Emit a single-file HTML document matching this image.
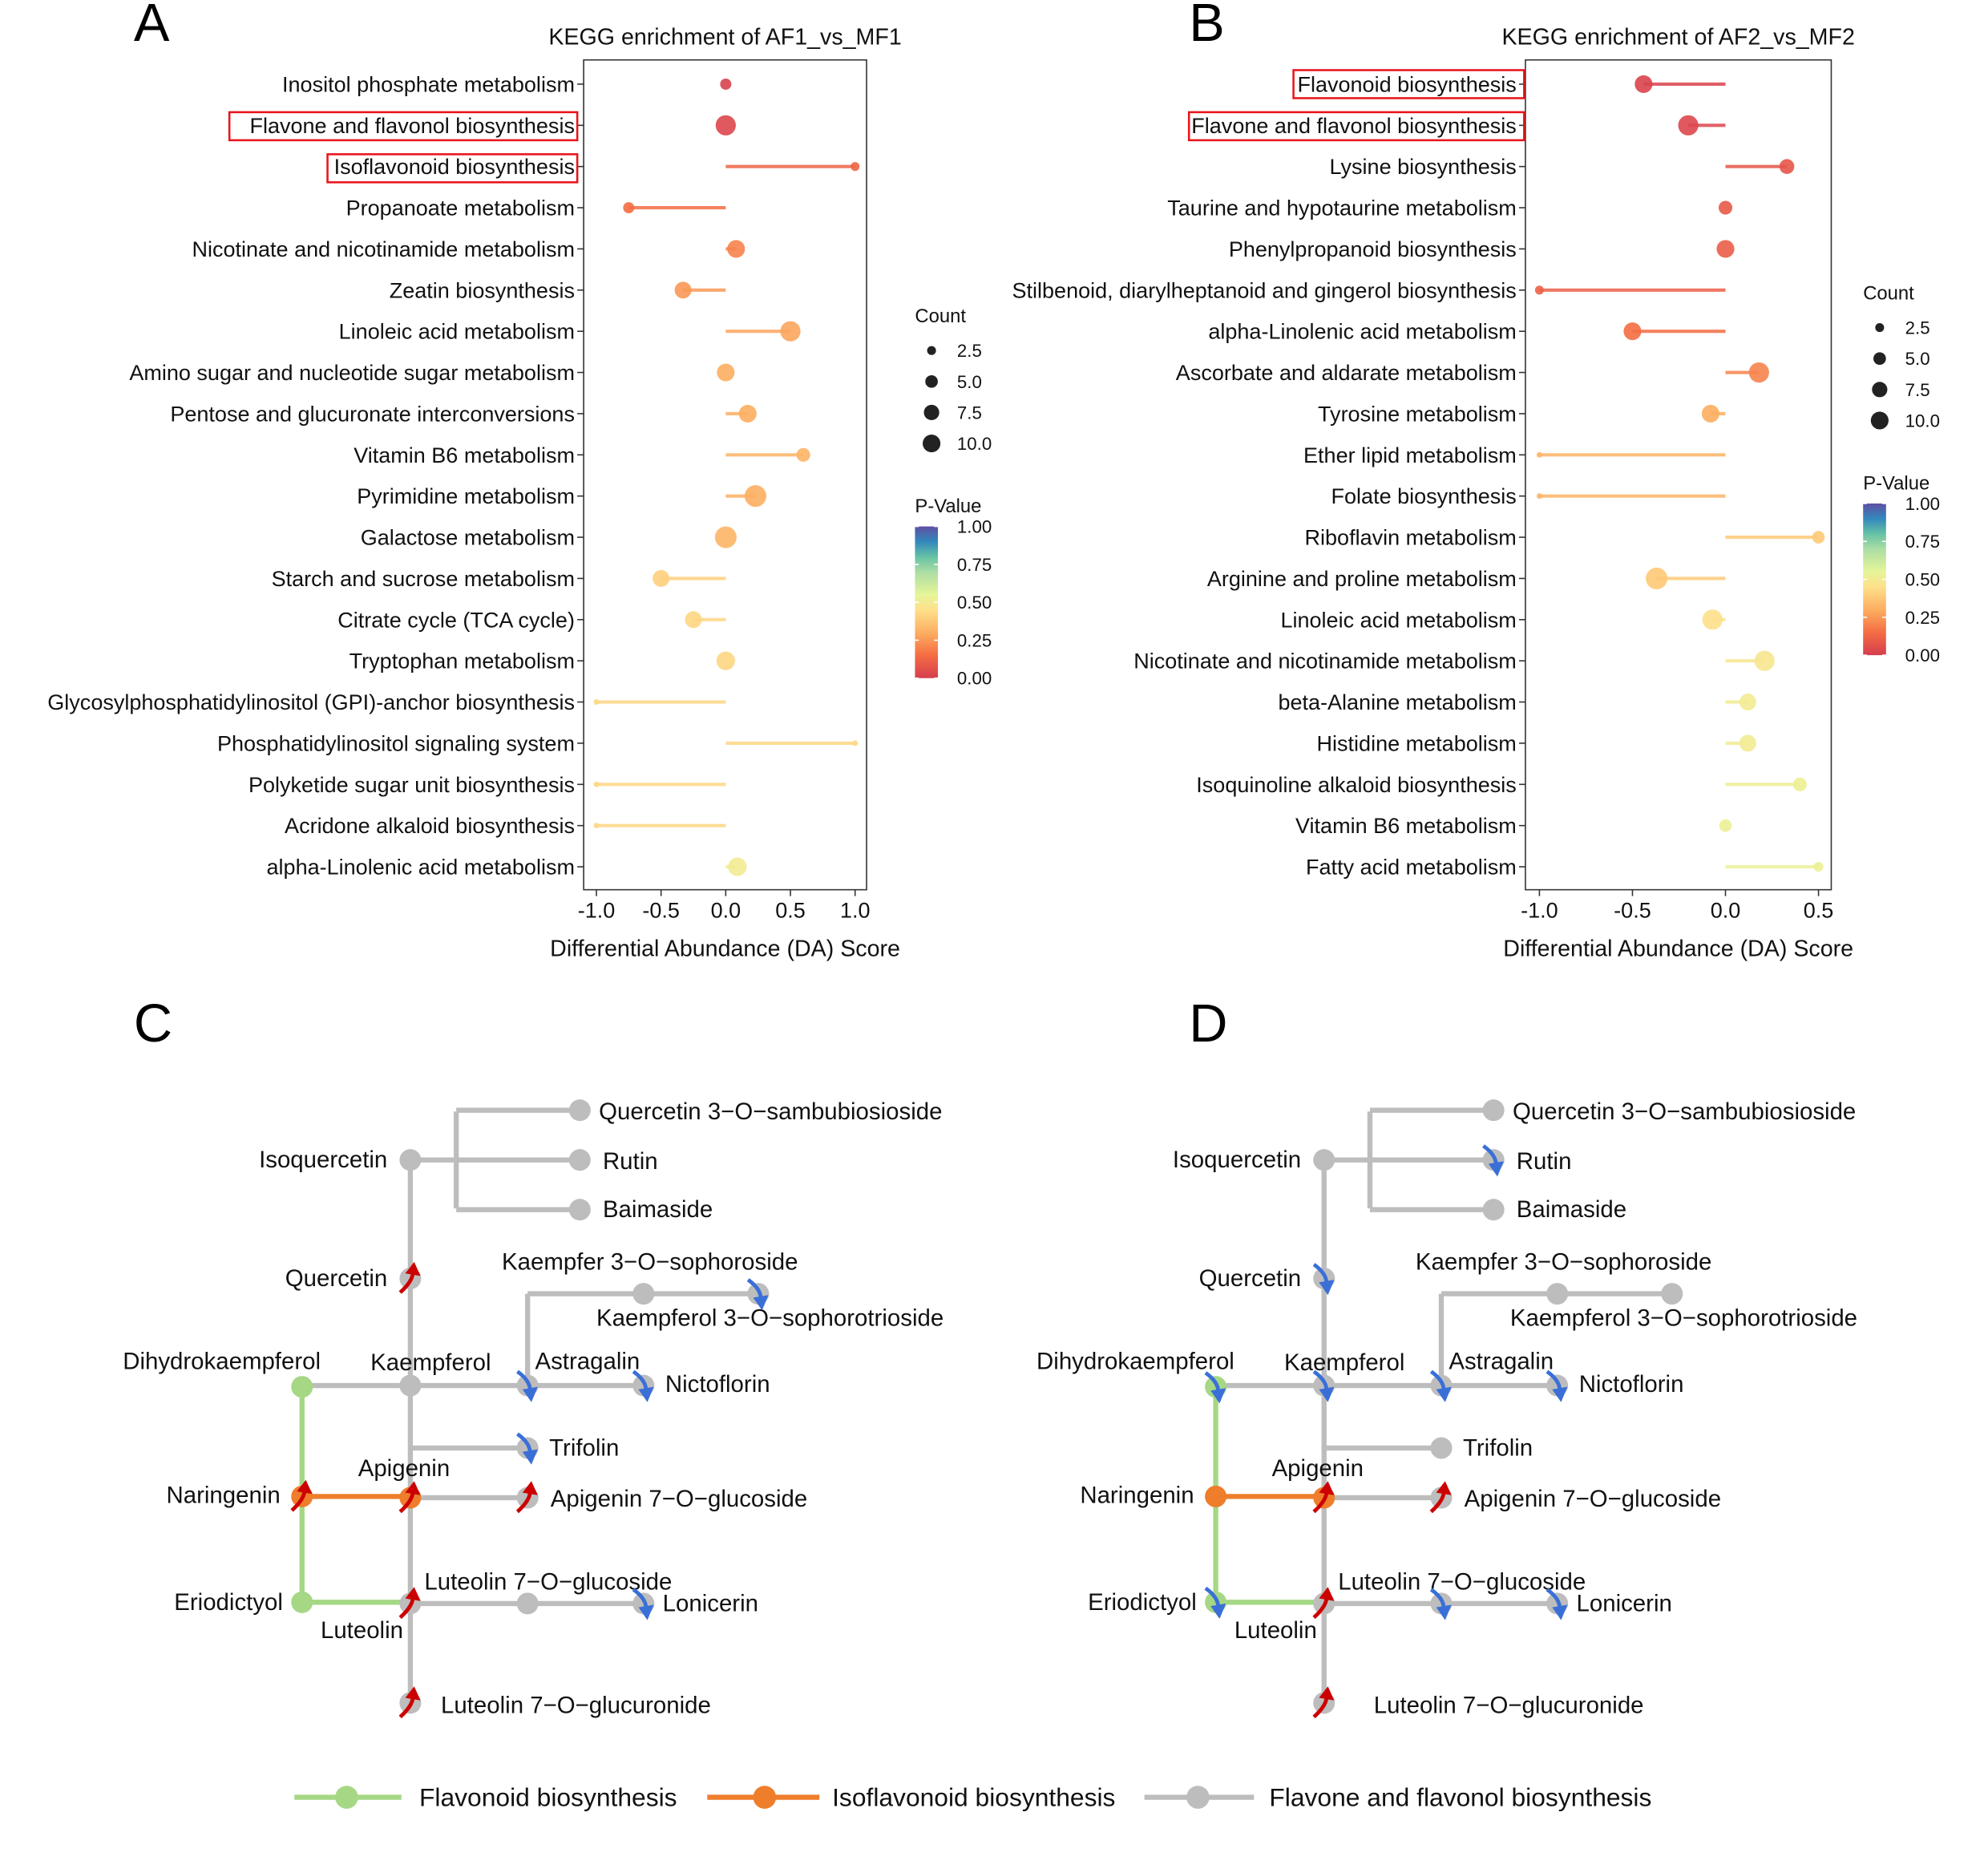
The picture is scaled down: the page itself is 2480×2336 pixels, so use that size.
<!DOCTYPE html>
<html><head><meta charset="utf-8"><style>
html,body{margin:0;padding:0;background:#fff}
svg{display:block;font-family:"Liberation Sans",Arial,sans-serif}
</style></head><body>
<svg id="fig" width="2480" height="2336" viewBox="0 0 1560 1469.4" xmlns="http://www.w3.org/2000/svg">
<defs>
<linearGradient id="pgrad" x1="0" y1="1" x2="0" y2="0">
<stop offset="0" stop-color="#d53e4f"/><stop offset="0.15" stop-color="#f46d43"/><stop offset="0.3" stop-color="#fdae61"/><stop offset="0.45" stop-color="#fee08b"/><stop offset="0.55" stop-color="#e6f598"/><stop offset="0.7" stop-color="#abdda4"/><stop offset="0.8" stop-color="#66c2a5"/><stop offset="0.9" stop-color="#3288bd"/><stop offset="1" stop-color="#5e4fa2"/>
</linearGradient>
</defs>
<g id="root"></g>
</svg>
<script>
// ---- Panel A data ----
const catsA = ["Inositol phosphate metabolism","Flavone and flavonol biosynthesis","Isoflavonoid biosynthesis","Propanoate metabolism","Nicotinate and nicotinamide metabolism","Zeatin biosynthesis","Linoleic acid metabolism","Amino sugar and nucleotide sugar metabolism","Pentose and glucuronate interconversions","Vitamin B6 metabolism","Pyrimidine metabolism","Galactose metabolism","Starch and sucrose metabolism","Citrate cycle (TCA cycle)","Tryptophan metabolism","Glycosylphosphatidylinositol (GPI)-anchor biosynthesis","Phosphatidylinositol signaling system","Polyketide sugar unit biosynthesis","Acridone alkaloid biosynthesis","alpha-Linolenic acid metabolism"];
const daA = [0,0,1,-0.75,0.08,-0.33,0.5,0,0.17,0.6,0.23,0,-0.5,-0.25,0,-1,1,-1,-1,0.09];
const countA = [4,13,2.5,4,10,9,13,10,10,6,15,15,9,9,11,1,1,1,1,11];
const pA = [0.01,0.03,0.12,0.15,0.2,0.25,0.28,0.3,0.3,0.32,0.3,0.32,0.4,0.42,0.42,0.42,0.42,0.42,0.42,0.5];
// ---- Panel B data ----
const catsB = ["Flavonoid biosynthesis","Flavone and flavonol biosynthesis","Lysine biosynthesis","Taurine and hypotaurine metabolism","Phenylpropanoid biosynthesis","Stilbenoid, diarylheptanoid and gingerol biosynthesis","alpha-Linolenic acid metabolism","Ascorbate and aldarate metabolism","Tyrosine metabolism","Ether lipid metabolism","Folate biosynthesis","Riboflavin metabolism","Arginine and proline metabolism","Linoleic acid metabolism","Nicotinate and nicotinamide metabolism","beta-Alanine metabolism","Histidine metabolism","Isoquinoline alkaloid biosynthesis","Vitamin B6 metabolism","Fatty acid metabolism"];
const daB = [-0.44,-0.2,0.33,0,0,-1,-0.5,0.18,-0.08,-1,-1,0.5,-0.37,-0.07,0.21,0.12,0.12,0.4,0,0.5];
const countB = [10,13,7,6,10,2.5,10,13,10,1,1,5,15,13,13,9,9,6,5,3];
const pB = [0.02,0.03,0.08,0.09,0.1,0.11,0.15,0.2,0.3,0.32,0.32,0.38,0.38,0.45,0.48,0.5,0.5,0.52,0.53,0.53];
const ticksA = [-1,-0.5,0,0.5,1];
const tickLabelsA = ["-1.0","-0.5","0.0","0.5","1.0"];
const ticksB = [-1,-0.5,0,0.5];
const tickLabelsB = ["-1.0","-0.5","0.0","0.5"];
const countBreaks = [2.5,5,7.5,10];
const countLabels = ["2.5","5.0","7.5","10.0"];
const pBreaks = [0,0.25,0.5,0.75,1];
const pLabels = ["0.00","0.25","0.50","0.75","1.00"];

const NS="http://www.w3.org/2000/svg";
const root=document.getElementById('root');
function mk(tag,attrs,parent,text){const e=document.createElementNS(NS,tag);for(const k in attrs)e.setAttribute(k,attrs[k]);if(text!==undefined)e.textContent=text;(parent||root).appendChild(e);return e;}
const stops=[[0,[213,62,79]],[0.15,[244,109,67]],[0.3,[253,174,97]],[0.45,[254,224,139]],[0.55,[230,245,152]],[0.7,[171,221,164]],[0.8,[102,194,165]],[0.9,[50,136,189]],[1,[94,79,162]]];
function pcol(p){for(let i=1;i<stops.length;i++){if(p<=stops[i][0]){const a=stops[i-1],b=stops[i];const t=(p-a[0])/(b[0]-a[0]);const c=a[1].map((v,j)=>Math.round(v+(b[1][j]-v)*t));return `rgb(${c[0]},${c[1]},${c[2]})`;}}return 'rgb(94,79,162)';}
function rad(c){return 2.2*Math.sqrt(c);}

function lollipop(cfg){
  const g=mk('g',{});  
  const xs=v=>cfg.x0+(v-cfg.d0)/(cfg.d1-cfg.d0)*(cfg.x1-cfg.x0);
  const n=cfg.cats.length;
  const ys=i=>cfg.yTop+i*(cfg.yBot-cfg.yTop)/(n-1);
  const t=mk('text',{x:(cfg.bx0+cfg.bx1)/2,y:35,'font-size':18,'text-anchor':'middle',fill:'#111'},g,cfg.title);
   
  const L=mk('text',{x:cfg.letterX,y:32,'font-size':42,fill:'#000'},g,cfg.letter);
   
  const box=mk('rect',{x:cfg.bx0,y:47,width:cfg.bx1-cfg.bx0,height:651,fill:'none',stroke:'#333','stroke-width':1},g);
   
  cfg.cats.forEach((c,i)=>{
    const y=ys(i);
    mk('line',{x1:cfg.bx0-5,x2:cfg.bx0,y1:y,y2:y,stroke:'#333','stroke-width':1},g);
    const lb=mk('text',{x:cfg.bx0-7,y:y+6,'font-size':17,'text-anchor':'end',fill:'#111'},g,c);
     
    const col=pcol(cfg.p[i]);
    const seg=mk('line',{x1:xs(0),x2:xs(cfg.da[i]),y1:y,y2:y,stroke:col,'stroke-width':2.6,opacity:0.85},g);
     
    const dot=mk('circle',{cx:xs(cfg.da[i]),cy:y,r:rad(cfg.count[i]),fill:col,opacity:0.9},g);
     
  });
  cfg.ticks.forEach((v,i)=>{
    mk('line',{x1:xs(v),x2:xs(v),y1:698,y2:703,stroke:'#333','stroke-width':1},g);
    const tl=mk('text',{x:xs(v),y:720,'font-size':17,'text-anchor':'middle',fill:'#111'},g,cfg.tickLabels[i]);
     
  });
  const xt=mk('text',{x:(cfg.bx0+cfg.bx1)/2,y:750,'font-size':18,'text-anchor':'middle',fill:'#111'},g,'Differential Abundance (DA) Score');
   
  cfg.boxes.forEach(b=>{const r=mk('rect',{x:b[0],y:b[1],width:b[2]-b[0],height:22,fill:'none',stroke:'#e8141c','stroke-width':1.6},g);
     });
  const lg=mk('g',{},g);  
  mk('text',{x:cfg.lx,y:cfg.ly+4,'font-size':15,fill:'#111'},lg,'Count');
  countBreaks.forEach((c,i)=>{const y=cfg.ly+26+i*24.3;
    mk('circle',{cx:cfg.lx+13,cy:y,r:rad(c),fill:'#222'},lg);
    mk('text',{x:cfg.lx+33,y:y+5,'font-size':14,fill:'#111'},lg,countLabels[i]);});
  const py=cfg.ly+149;
  mk('text',{x:cfg.lx,y:py+4,'font-size':15,fill:'#111'},lg,'P-Value');
  mk('rect',{x:cfg.lx,y:py+15,width:18,height:119,fill:'url(#pgrad)'},lg);
  pBreaks.forEach((p,i)=>{const y=py+134-p*119;
    mk('line',{x1:cfg.lx,x2:cfg.lx+3,y1:y,y2:y,stroke:'#fff'},lg);mk('line',{x1:cfg.lx+15,x2:cfg.lx+18,y1:y,y2:y,stroke:'#fff'},lg);
    mk('text',{x:cfg.lx+33,y:y+5,'font-size':14,fill:'#111'},lg,pLabels[i]);});
}
lollipop({name:'chart-a',letter:'A',letterX:105,title:'KEGG enrichment of AF1_vs_MF1',cats:catsA,da:daA,count:countA,p:pA,
  bx0:458,bx1:680,x0:468,x1:671,d0:-1,d1:1,yTop:66,yBot:680,ticks:ticksA,tickLabels:tickLabelsA,
  boxes:[[180,88,453],[257,121,453]],lx:718,ly:249});
lollipop({name:'chart-b',letter:'B',letterX:933,title:'KEGG enrichment of AF2_vs_MF2',cats:catsB,da:daB,count:countB,p:pB,
  bx0:1197,bx1:1437,x0:1208,x1:1427,d0:-1,d1:0.5,yTop:66,yBot:680,ticks:ticksB,tickLabels:tickLabelsB,
  boxes:[[1015,55,1196],[933,88,1196]],lx:1462,ly:231});

const GR='#bdbdbd',GN='#a6d785',OR='#ee7d2c';
function pathway(dx,letter,letterX,arrows,lut7x){
  const g=mk('g',{transform:`translate(${dx},0)`});
   
  const L=mk('text',{x:letterX-dx,y:817,'font-size':42,fill:'#000'},g,letter);
   
  const lines=[
    [[322,910],[322,1336],GR],[[358,872],[358,948],GR],[[358,871],[455,871],GR],[[322,910],[455,910],GR],[[358,949],[455,949],GR],
    [[237,1087],[414,1087],GR],[[414,1087],[505,1087],GR],[[414,1087],[414,1015],GR],[[414,1015],[595,1015],GR],
    [[322,1136],[414,1136],GR],[[322,1175],[414,1175],GR],[[322,1258],[505,1258],GR],
    [[237,1088],[237,1257],GN],[[237,1257],[322,1257],GN],[[237,1174],[322,1174],OR]];
  lines.forEach(l=>{const e=mk('line',{x1:l[0][0],y1:l[0][1],x2:l[1][0],y2:l[1][1],stroke:l[2],'stroke-width':4},g);
     });
  const nodes=[['isoquercetin',322,910,GR],['quercetin',322,1003,GR],['kaempferol',322,1087,GR],['dihydrokaempferol',237,1088,GN],
    ['naringenin',237,1174,OR],['eriodictyol',237,1257,GN],['apigenin',322,1175,OR],['luteolin',322,1258,GR],['luteolin-7-glucuronide',322,1336,GR],
    ['quercetin-sambubiosioside',455,871,GR],['rutin',455,910,GR],['baimaside',455,949,GR],['astragalin',414,1087,GR],['nictoflorin',505,1087,GR],
    ['kaempfer-sophoroside',505,1015,GR],['kaempferol-sophorotrioside',595,1015,GR],['trifolin',414,1136,GR],['apigenin-7-glucoside',414,1175,GR],
    ['luteolin-7-glucoside',414,1258,GR],['lonicerin',505,1258,GR]];
  const pos={};
  nodes.forEach(n=>{pos[n[0]]=[n[1],n[2]];const c=mk('circle',{cx:n[1],cy:n[2],r:8.5,fill:n[3]},g);
     });
  const labels=[['Isoquercetin',304,916,'end'],['Quercetin',304,1009,'end'],['Dihydrokaempferol',174,1074,'middle'],['Kaempferol',338,1075,'middle'],
    ['Astragalin',461,1074,'middle'],['Kaempfer 3−O−sophoroside',510,996,'middle'],['Kaempferol 3−O−sophorotrioside',468,1040,'start'],
    ['Nictoflorin',522,1092,'start'],['Trifolin',431,1142,'start'],['Apigenin',317,1158,'middle'],['Naringenin',220,1179,'end'],
    ['Apigenin 7−O−glucoside',432,1182,'start'],['Luteolin 7−O−glucoside',333,1247,'start'],['Lonicerin',520,1264,'start'],
    ['Eriodictyol',222,1263,'end'],['Luteolin',284,1285,'middle'],['Luteolin 7−O−glucuronide',lut7x,1344,'start'],
    ['Quercetin 3−O−sambubiosioside',470,878,'start'],['Rutin',473,917,'start'],['Baimaside',473,955,'start']];
  labels.forEach(l=>{const t=mk('text',{x:l[1],y:l[2],'font-size':18.5,'text-anchor':l[3],fill:'#111'},g,l[0]);
     });
  arrows.forEach(a=>{const [x,y]=pos[a[0]];const ag=mk('g',{},g);
     
    if(a[1]==='up'){
      mk('path',{d:`M${x-8},${y+11} Q${x+2},${y+2} ${x+2},${y-5}`,fill:'none',stroke:'#cc0000','stroke-width':3},ag);
      mk('path',{d:`M${x-4},${y-4} L${x+3},${y-13} L${x+8},${y-2} Z`,fill:'#cc0000'},ag);
    } else {
      mk('path',{d:`M${x-8},${y-11} Q${x+2},${y-4} ${x+2},${y+4}`,fill:'none',stroke:'#3a6fd8','stroke-width':3},ag);
      mk('path',{d:`M${x-4},${y+3} L${x+3},${y+13} L${x+8},${y+1} Z`,fill:'#3a6fd8'},ag);
    }});
}
pathway(0,'C',105,[['quercetin','up'],['naringenin','up'],['apigenin','up'],['apigenin-7-glucoside','up'],['luteolin','up'],['luteolin-7-glucuronide','up'],
  ['kaempferol-sophorotrioside','down'],['astragalin','down'],['nictoflorin','down'],['trifolin','down'],['lonicerin','down']],346);
pathway(717,'D',933,[['rutin','down'],['quercetin','down'],['dihydrokaempferol','down'],['kaempferol','down'],['astragalin','down'],['nictoflorin','down'],
  ['apigenin','up'],['apigenin-7-glucoside','up'],['eriodictyol','down'],['luteolin','up'],['luteolin-7-glucoside','down'],['lonicerin','down'],['luteolin-7-glucuronide','up']],361);

const bl=mk('g',{});  
[[231,315,272,329,GN,'Flavonoid biosynthesis'],[555,643,600,653,OR,'Isoflavonoid biosynthesis'],[898,984,940,996,GR,'Flavone and flavonol biosynthesis']].forEach(e=>{
  const it=mk('g',{},bl);  
  mk('line',{x1:e[0],x2:e[1],y1:1410,y2:1410,stroke:e[4],'stroke-width':4},it);
  mk('circle',{cx:e[2],cy:1410,r:9,fill:e[4]},it);
  mk('text',{x:e[3],y:1417,'font-size':20,fill:'#111'},it,e[5]);
});
</script>
</body></html>
